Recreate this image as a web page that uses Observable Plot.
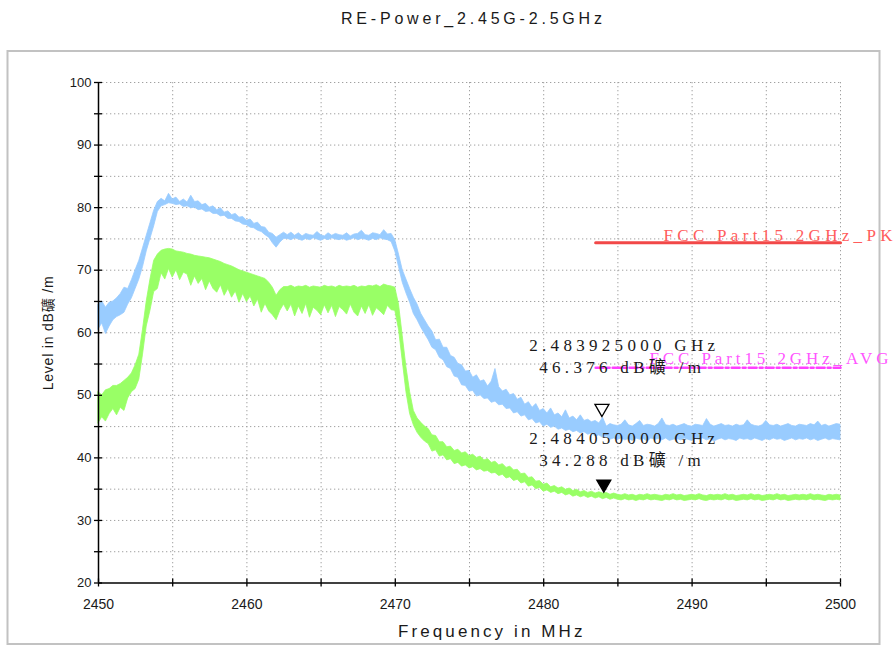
<!DOCTYPE html>
<html><head><meta charset="utf-8">
<script src="https://cdn.jsdelivr.net/npm/d3@7"></script>
<script src="https://cdn.jsdelivr.net/npm/@observablehq/plot@0.6"></script>
<style>
html,body{margin:0;padding:0;background:#fff;}
#chart{position:relative;width:896px;height:646px;}
</style></head><body><div id="chart"></div>
<script>
// sampling of the traces (MHz)
const freqStart = 2450, freqStep = 0.25;

// Peak trace (blue) upper / lower envelope, dBuV/m
const blueHi = [64.5,65.0,64.0,64.8,65.0,65.5,66.2,67.2,67.0,68.4,
70.0,71.5,73.5,75.5,77.5,79.5,80.9,81.4,81.0,82.2,
81.3,81.6,80.9,81.3,80.8,81.9,80.9,81.0,80.4,80.6,
80.0,80.2,79.6,79.9,79.2,79.4,78.8,79.0,78.4,78.5,
77.9,78.1,77.4,77.6,76.9,76.8,76.0,75.8,75.2,75.6,
76.0,
75.6,76.0,75.5,75.9,75.4,75.8,75.6,75.5,76.1,75.6,75.4,75.9,75.5,75.8,75.6,75.5,75.9,75.4,75.7,75.8,76.3,75.6,75.5,75.9,75.8,75.6,76.4,75.7,
75.8,74.8,72.5,70.0,68.5,67.0,65.6,64.5,63.0,62.0,61.0,
60.2,58.8,58.9,57.6,57.6,56.3,56.0,55.0,54.8,53.8,
53.9,52.8,53.2,52.2,52.4,51.4,52.2,54.2,51.3,50.6,
50.9,50.0,50.2,49.3,49.6,48.5,48.9,48.0,48.6,47.5,
47.8,47.1,47.9,46.8,47.1,46.5,47.6,46.3,46.6,46.0,
46.8,45.9,46.1,45.7,45.9,45.5,46.4,45.0,45.4,45.2,
45.1,45.3,46.0,45.2,45.0,45.4,45.9,45.1,45.3,45.2,
45.0,45.4,46.3,45.2,45.1,45.3,45.0,45.2,45.4,45.1,
45.0,45.3,45.2,45.1,46.2,45.3,45.0,45.2,45.4,45.1,
45.2,45.0,45.3,45.1,45.2,46.0,45.3,45.1,45.0,45.2,
45.9,45.2,45.1,45.3,45.0,45.2,45.4,45.1,45.0,45.3,
45.2,45.1,45.4,45.2,45.8,45.1,45.3,45.0,45.2,45.4,45.3];
const blueLo = [60.5,61.5,59.8,61.0,62.0,62.5,62.8,63.2,64.5,65.5,
67.0,68.5,70.5,73.0,75.0,77.0,79.3,80.2,80.4,80.7,
80.6,80.4,80.5,80.1,80.2,79.9,80.0,79.6,79.7,79.3,
79.4,79.0,79.0,78.6,78.7,78.2,78.2,77.8,77.7,77.3,
77.2,76.8,76.7,76.3,76.1,75.6,75.2,74.3,73.6,74.4,
75.0,
75.0,74.8,75.1,74.9,74.7,75.0,74.8,75.1,74.9,74.7,75.0,74.8,75.1,74.9,74.8,75.0,74.7,74.9,75.1,74.8,75.0,74.9,74.7,75.0,74.8,75.1,74.9,74.8,
74.5,73.0,70.5,68.0,66.3,64.8,63.0,62.0,60.8,59.8,58.8,
57.6,57.2,56.0,55.6,54.5,54.2,53.0,52.8,51.6,51.5,
50.6,50.7,49.8,50.0,49.4,49.5,48.8,49.0,48.4,48.5,
47.8,47.9,47.1,47.3,46.6,46.8,46.0,46.2,45.5,45.7,
45.0,45.3,44.8,45.0,44.5,44.7,44.3,44.5,44.1,44.3,
43.9,44.1,43.7,43.9,43.4,43.6,43.2,43.4,42.9,43.1,
42.9,43.1,42.8,43.0,42.7,43.1,42.9,43.0,42.6,43.1,
42.9,43.0,42.8,43.1,42.7,42.9,43.0,42.8,43.1,42.9,
42.7,43.0,42.9,43.1,42.8,43.0,42.6,42.9,43.1,42.8,
43.0,42.9,42.7,43.1,42.9,43.0,42.8,43.1,42.9,42.7,
43.0,42.8,43.1,42.9,43.0,42.7,42.9,43.1,42.8,43.0,
42.9,43.1,42.8,43.0,42.7,42.9,43.1,42.8,43.0,42.9,42.8];

// Average trace (green) upper / lower envelope, dBuV/m
const greenHi = [50.5,50.0,50.8,51.0,51.5,51.5,51.8,52.3,52.8,53.5,
54.8,56.5,60.5,65.0,68.5,71.5,72.5,73.1,73.3,73.4,
73.3,73.0,72.9,72.8,72.6,72.5,72.3,72.2,72.1,72.0,
71.9,71.7,71.5,71.3,71.0,70.8,70.6,70.3,70.0,69.8,
69.6,69.4,69.2,69.0,68.8,68.6,68.0,67.2,65.9,66.8,
67.3,
67.3,67.5,67.2,67.4,67.3,67.5,67.2,67.4,67.3,67.2,67.5,67.3,67.4,67.2,67.5,67.3,67.4,67.3,67.5,67.2,67.4,67.3,67.5,67.4,67.6,67.3,67.7,67.5,67.4,
67.2,64.5,59.5,54.5,50.5,47.5,46.3,45.6,45.0,44.6,
43.6,43.5,42.5,42.5,41.7,41.8,41.1,41.3,40.7,40.9,
40.3,40.5,40.0,40.2,39.6,39.8,39.2,39.4,38.8,39.0,
38.4,38.6,38.0,38.1,37.4,37.5,36.8,36.9,36.2,36.3,
35.7,35.9,35.3,35.5,35.1,35.3,34.9,35.1,34.7,34.9,
34.5,34.7,34.4,34.6,34.3,34.5,34.3,34.4,34.1,34.3,
34.1,34.0,34.2,34.0,34.1,33.9,34.1,34.0,34.2,34.0,
34.1,34.0,33.9,34.1,34.0,34.2,34.0,34.1,33.9,34.0,
34.1,34.0,34.2,34.0,33.9,34.1,34.0,34.1,34.0,34.2,
34.0,34.1,33.9,34.0,34.1,34.0,34.2,34.0,34.1,33.9,
34.0,34.1,34.0,34.2,34.0,34.1,33.9,34.0,34.1,34.0,
34.1,34.0,34.2,34.0,34.1,34.0,33.9,34.1,34.0,34.1,34.0];
const greenLo = [45.5,46.5,45.8,47.0,47.8,46.8,48.0,47.5,49.5,50.5,
51.0,52.5,56.5,61.0,63.5,66.5,67.0,69.5,68.5,70.2,
68.8,70.0,68.4,69.6,69.3,67.5,69.0,67.8,68.6,66.8,
68.2,67.0,66.4,67.6,65.9,67.0,65.6,66.6,64.8,66.2,
64.9,65.8,64.2,65.3,63.2,64.6,63.4,62.8,62.0,63.5,
64.5,
63.4,64.5,62.6,64.2,63.0,64.6,62.4,64.0,63.5,62.8,64.4,63.1,64.3,62.5,64.1,63.6,62.9,64.5,63.2,62.6,64.2,63.0,64.4,62.7,63.9,63.4,62.8,64.3,63.6,
63.5,60.5,55.5,50.5,47.0,45.2,44.0,43.2,42.6,42.2,
41.0,41.2,40.2,40.4,39.6,39.8,39.0,39.2,38.6,38.8,
38.3,38.5,38.0,38.2,37.8,37.9,37.5,37.6,37.1,37.3,
36.7,36.9,36.3,36.5,35.9,36.1,35.4,35.6,35.0,35.2,
34.6,34.8,34.4,34.6,34.2,34.4,34.0,34.2,33.8,34.0,
33.7,33.9,33.6,33.8,33.5,33.7,33.4,33.6,33.3,33.5,
33.3,33.2,33.4,33.2,33.3,33.1,33.3,33.2,33.4,33.2,
33.3,33.2,33.1,33.3,33.2,33.4,33.2,33.3,33.1,33.2,
33.3,33.2,33.4,33.2,33.1,33.3,33.2,33.3,33.2,33.4,
33.2,33.3,33.1,33.2,33.3,33.2,33.4,33.2,33.3,33.1,
33.2,33.3,33.2,33.4,33.2,33.3,33.1,33.2,33.3,33.2,
33.3,33.2,33.4,33.2,33.3,33.2,33.1,33.3,33.2,33.3,33.2];

// axes
const xTicks = [2450,2455,2460,2465,2470,2475,2480,2485,2490,2495,2500];
const yTicks = [20,25,30,35,40,45,50,55,60,65,70,75,80,85,90,95,100];

// limit lines
const limitNames = ["FCC Part15 2GHz_PK", "FCC Part15 2GHz_AVG"];
const limitFreq = [2483.5, 2500];
const limitLevel = [74.4, 54.4];

// markers
const markerFreq = [2483.925, 2484.05];
const markerLevel = [46.376, 34.288];

// texts
const titleText = "RE-Power_2.45G-2.5GHz";
const xLabel = "Frequency in MHz";
const yLabel = "Level in dB礦 /m";
const unitText = " dB礦 /m";

// ---- tables ----
const peak = blueHi.map((hi, i) => ({f: freqStart + i * freqStep, hi, lo: blueLo[i]}));
const avg = greenHi.map((hi, i) => ({f: freqStart + i * freqStep, hi, lo: greenLo[i]}));
const pkRows = limitFreq.map(f => ({f, v: limitLevel[0]}));
const avRows = limitFreq.map(f => ({f, v: limitLevel[1]}));
const pkLabel = [{f: limitFreq[1], v: limitLevel[0], t: limitNames[0]}];
const avLabel = [{f: limitFreq[1], v: limitLevel[1], t: limitNames[1]}];
const markers = markerFreq.map((f, i) => ({
  f, v: markerLevel[i],
  l1: (f / 1000).toFixed(9) + " GHz",
  l2: markerLevel[i].toFixed(3) + unitText
}));

const triangleDown = {
  draw(ctx, size) {
    const y = Math.sqrt(size / (3 * Math.sqrt(3)));
    ctx.moveTo(0, 2 * y);
    ctx.lineTo(-Math.sqrt(3) * y, -y);
    ctx.lineTo(Math.sqrt(3) * y, -y);
    ctx.closePath();
  }
};

const sans = "Arial, 'Liberation Sans', 'Noto Sans CJK SC', sans-serif";
const serif = "'Liberation Serif', 'Times New Roman', 'Noto Sans CJK SC', serif";
const gridStyle = {stroke: "#a0a0a0", strokeOpacity: 1, strokeWidth: 1, strokeDasharray: "1.3,2.7"};

const chart = Plot.plot({
  width: 896, height: 646,
  marginLeft: 98, marginRight: 56, marginTop: 82, marginBottom: 63.5,
  x: {domain: [2450, 2500]},
  y: {domain: [20, 100]},
  style: {fontFamily: sans, background: "transparent", overflow: "visible", color: "#1a1a1a"},
  marks: [
    Plot.gridX(xTicks.slice(1), gridStyle),
    Plot.gridY(yTicks.slice(1), gridStyle),
    Plot.areaY(peak, {x: "f", y1: "lo", y2: "hi", fill: "#99ccff", stroke: "#99ccff", strokeWidth: 0.8}),
    Plot.areaY(avg, {x: "f", y1: "lo", y2: "hi", fill: "#99ff66", stroke: "#99ff66", strokeWidth: 0.8}),
    Plot.line(pkRows, {x: "f", y: "v", stroke: "#f24848", strokeWidth: 3}),
    Plot.line(avRows, {x: "f", y: "v", stroke: "#ff40ff", strokeWidth: 2.5, strokeDasharray: "8,3,3,3"}),
    Plot.text(pkLabel, {x: "f", y: "v", text: "t", textAnchor: "start", lineAnchor: "bottom", dx: -177, dy: -2, fill: "#ff5c5c", fontSize: 17, fontFamily: serif}),
    Plot.text(avLabel, {x: "f", y: "v", text: "t", textAnchor: "start", lineAnchor: "bottom", dx: -191, dy: -4, fill: "#ff55ff", fontSize: 17, fontFamily: serif}),
    Plot.ruleX([xTicks[0]], {stroke: "black", strokeWidth: 1.5}),
    Plot.ruleY([yTicks[0]], {stroke: "black", strokeWidth: 1.5}),
    Plot.ruleX(xTicks, {x: d => d, y1: 20, y2: 20.65, stroke: "black", strokeWidth: 1.3}),
    Plot.ruleY(yTicks, {y: d => d, x1: 2450, x2: 2450.27, stroke: "black", strokeWidth: 1.3}),
    Plot.axisX(xTicks, {tickSize: 4, tickPadding: 12, strokeWidth: 1.3, stroke: "black", fill: "#1a1a1a", fontSize: 14, label: null, tickFormat: d => d % 10 === 0 ? String(d) : ""}),
    Plot.axisY(yTicks, {tickSize: 4, tickPadding: 3, strokeWidth: 1.3, stroke: "black", fill: "#1a1a1a", fontSize: 13, label: null, tickFormat: d => d % 10 === 0 ? String(d) : ""}),
    Plot.dot(markers.slice(0, 1), {x: "f", y: "v", symbol: triangleDown, r: 5.2, dy: -9.5, fill: "white", stroke: "black", strokeWidth: 1.3}),
    Plot.dot(markers.slice(1), {x: "f", y: "v", symbol: triangleDown, r: 5.2, dy: -9.5, fill: "black", stroke: "black", strokeWidth: 1.3}),
    Plot.text(markers.slice(0, 1), {x: "f", y: "v", text: "l1", textAnchor: "start", lineAnchor: "bottom", dx: -72.7, dy: -66.8, fill: "#1a1a1a", fontSize: 17, fontFamily: serif}),
    Plot.text(markers.slice(0, 1), {x: "f", y: "v", text: "l2", textAnchor: "start", lineAnchor: "bottom", dx: -62.7, dy: -45.2, fill: "#1a1a1a", fontSize: 17, fontFamily: serif}),
    Plot.text(markers.slice(1), {x: "f", y: "v", text: "l1", textAnchor: "start", lineAnchor: "bottom", dx: -74.6, dy: -49.8, fill: "#1a1a1a", fontSize: 17, fontFamily: serif}),
    Plot.text(markers.slice(1), {x: "f", y: "v", text: "l2", textAnchor: "start", lineAnchor: "bottom", dx: -64.6, dy: -28.1, fill: "#1a1a1a", fontSize: 17, fontFamily: serif})
  ]
});

const svg = d3.select(chart);
// letter spacing for the instrument-style serif labels
const spaced = new Set([...limitNames, ...markers.map(m => m.l1), ...markers.map(m => m.l2)]);
svg.selectAll("text").each(function () {
  if (spaced.has(this.textContent)) {
    d3.select(this).attr("letter-spacing", this.textContent === limitNames[1] ? 3.9 : 4.3);
  }
});
// outer frame
svg.insert("rect", ":first-child")
  .attr("x", 7.5).attr("y", 51).attr("width", 872).attr("height", 593)
  .attr("fill", "none").attr("stroke", "#c2c2c2").attr("stroke-width", 2);
// title
svg.append("text").text(titleText)
  .attr("x", 341).attr("y", 23.5).attr("text-anchor", "start")
  .attr("font-size", 16).attr("letter-spacing", 3.8)
  .attr("fill", "#1a1a1a").attr("font-family", sans);
// x label
svg.append("text").text(xLabel)
  .attr("x", 398).attr("y", 636.5).attr("text-anchor", "start")
  .attr("font-size", 17).attr("letter-spacing", 3.1)
  .attr("fill", "#1a1a1a").attr("font-family", sans);
// y label
svg.append("text").text(yLabel)
  .attr("transform", "translate(53,333) rotate(-90)").attr("text-anchor", "middle")
  .attr("font-size", 14).attr("letter-spacing", 0.8).attr("fill", "#1a1a1a")
  .attr("font-family", sans);

document.getElementById("chart").appendChild(chart);
</script>
</body></html>
